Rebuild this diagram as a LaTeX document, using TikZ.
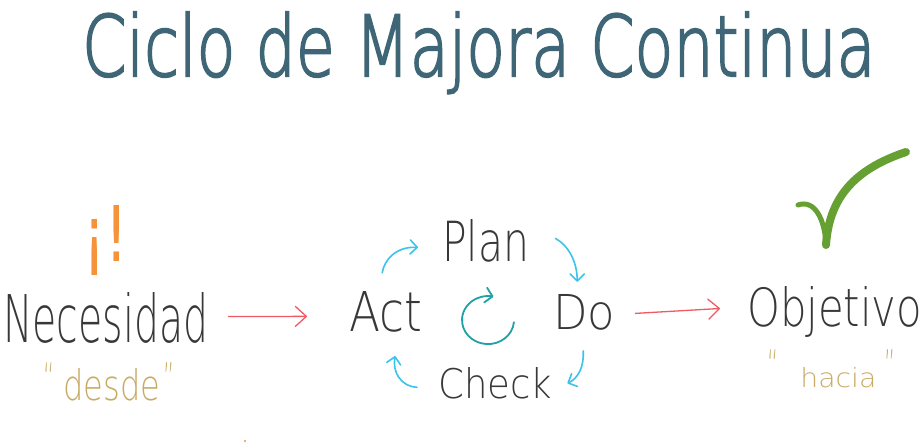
\documentclass[tikz,border=0pt]{standalone}
\usepackage{fontspec}
\usepackage{graphicx}
\usetikzlibrary{arrows.meta,calc}
\newfontfamily\thinfont{DejaVu Sans ExtraLight}
\newfontfamily\titlefont[FakeBold=2.5]{DejaVu Sans ExtraLight}
\newfontfamily\exclfont{DejaVu Sans}
\definecolor{ink}{HTML}{383838}
\definecolor{titleink}{HTML}{3F6676}
\definecolor{tan}{HTML}{C8AA64}
\definecolor{orangeink}{HTML}{F5923A}
\definecolor{redink}{HTML}{F05A64}
\definecolor{cyanink}{HTML}{3CC3EB}
\definecolor{tealink}{HTML}{22A0A5}
\definecolor{greenink}{HTML}{66A033}
\newcommand{\qmark}[1]{\raisebox{7.5pt}{\scalebox{0.9}[1.7]{\fontsize{24}{24}\selectfont #1}}}
\begin{document}
\begin{tikzpicture}[x=1pt,y=-1pt,
  word/.style={inner sep=0pt,anchor=base west,text=ink,font=\thinfont},
  redarr/.style={draw=redink,line width=1.3pt,line cap=round,
    -{Straight Barb[length=11pt,width=20pt,line width=1.3pt,round]}},
  cycarr/.style={draw=cyanink,line width=1.6pt,line cap=round,
    -{Straight Barb[length=7pt,width=14pt,line width=1.6pt,round]}}]
\fill[white] (0,0) rectangle (923,443);
\useasboundingbox (0,0) rectangle (923,443);

% title
\node[inner sep=0pt,anchor=base west,text=titleink,font=\titlefont] (title) at (82,76)
  {\resizebox{793pt}{64pt}{Ciclo de Majora Continua}};

% left
\node[inner sep=0pt,anchor=north west,text=orangeink,font=\exclfont] (excl) at (83,205)
  {\resizebox*{45pt}{70pt}{¡!}};
\node[word] (nec) at (3,342) {\resizebox{205pt}{50pt}{Necesidad}};
\node[word,text=tan] (desde) at (43,400)
  {\qmark{“}\hspace{9pt}\resizebox{97pt}{32pt}{desde}\hspace{3pt}\qmark{”}};

% cycle
\node[word] (plan) at (442,262) {\resizebox{87pt}{42pt}{Plan}};
\node[word] (act) at (349,332) {\resizebox{73pt}{40pt}{Act}};
\node[word] (do) at (553,330) {\resizebox{62pt}{35pt}{Do}};
\node[word] (check) at (438,399) {\resizebox{114pt}{31pt}{Check}};

% right
\node[word] (obj) at (747,327) {\resizebox{175pt}{40pt}{Objetivo}};
\node[word,text=tan] (hacia) at (767,387)
  {\qmark{“}\hspace{22pt}\resizebox{76pt}{20pt}{hacia}\hspace{8pt}\qmark{”}};

% red connectors
\draw[redarr] ($(nec.east)+(20,-1)$) -- ($(act.west)+(-42,4)$);
\draw[redarr] ($(do.east)+(20,0.5)$) -- ($(obj.west)+(-27,-4)$);

% cyan cycle arrows
\draw[cycarr] ($(act.north)+(-3.5,-19)$) .. controls +(2,-13) and +(-22,-1) .. ($(plan.west)+(-24,6)$);
\draw[cycarr] ($(plan.east)+(26,-3)$) .. controls +(13,7) and +(0,-20) .. ($(do.north)+(-7,-13)$);
\draw[cycarr] ($(do.south)+(-1,20)$) .. controls +(1,15) and +(11,-5) .. ($(check.east)+(15,-0.5)$);
\draw[cycarr] ($(check.west)+(-21,3.5)$) .. controls +(-17,-1) and +(-3,15) .. ($(act.south)+(9.5,23)$);

% center cycle icon
\draw[draw=tealink,line width=1.8pt,line cap=round,
  -{Straight Barb[length=7pt,width=15pt,line width=1.8pt,round]}]
  (489,320) ++(5:25) arc[start angle=5,end angle=282,x radius=26,y radius=24];

% check mark
\draw[greenink,line width=5pt,line cap=round] (798,205) .. controls (815,199) and (825,220) .. (826,245);
\draw[greenink,line width=8pt,line cap=round] (826,245) .. controls (829,200) and (852,170) .. (906,152);

% speck
\fill[orangeink] (245,441) circle (1.2);
\end{tikzpicture}
\end{document}
